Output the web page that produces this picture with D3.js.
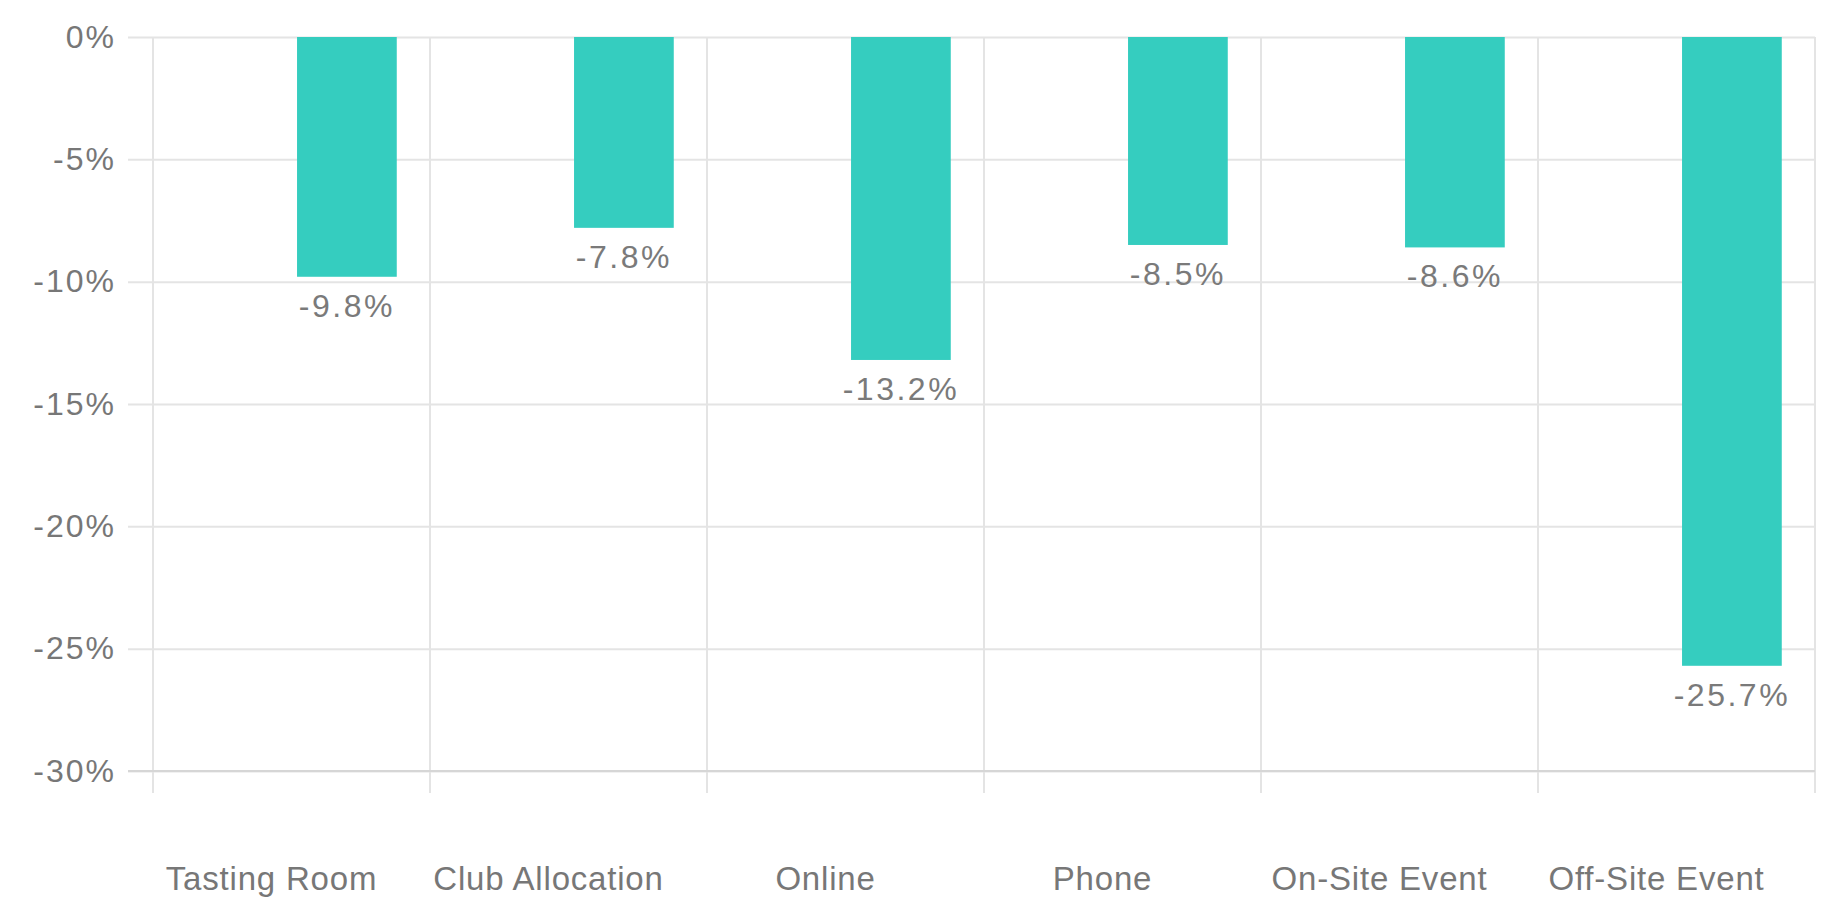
<!DOCTYPE html>
<html>
<head>
<meta charset="utf-8">
<script src="https://cdn.jsdelivr.net/npm/d3@7"></script>
<style>
body { margin: 0; background: #fff; }
svg { display: block; font-family: "Liberation Sans", Arial, Helvetica, sans-serif; }
.grid line { stroke: #e4e4e4; stroke-width: 2px; }
.axis--y .domain { display: none; }
.axis--y line { stroke: #e4e4e4; stroke-width: 2px; }
.axis--y .tick text { fill: #777; font-size: 32px; letter-spacing: 2px; }
.base { stroke: #d6d6d6; stroke-width: 2px; }
.bar { fill: #35cdbf; }
.val { fill: #7a7a7a; font-size: 32px; letter-spacing: 2.5px; text-anchor: middle; }
.cat { fill: #777; font-size: 33px; letter-spacing: 0.8px; text-anchor: middle; }
</style>
</head>
<body>
<svg id="chart" width="1825" height="908"></svg>
<script>

/// Chart values
var categories = ["Tasting Room", "Club Allocation", "Online", "Phone", "On-Site Event", "Off-Site Event"];
var changes = [-9.8, -7.8, -13.2, -8.5, -8.6, -25.7];
var yTicks = [0, -5, -10, -15, -20, -25, -30];
var seriesSlots = ["prior", "change"]; /// first slot is empty in the original

var svg = d3.select("#chart"),
    margin = {top: 37, right: 10, bottom: 137, left: 153},
    width = +svg.attr("width") - margin.left - margin.right,
    height = +svg.attr("height") - margin.top - margin.bottom;

var x = d3.scaleBand()
    .domain(categories)
    .range([margin.left, margin.left + width])
    .padding(0);

/// slot inside each category (80% of the band, bar 90% of the slot)
var x1 = d3.scaleBand()
    .domain(seriesSlots)
    .range([x.bandwidth() * 0.1, x.bandwidth() * 0.9])
    .paddingInner(0.1)
    .paddingOuter(0.05);

var y = d3.scaleLinear()
    .domain([-30, 0])
    .range([margin.top + height, margin.top]);

var data = categories.map(function(c, i) { return {cat: c, v: changes[i]}; });

/// horizontal grid + y labels
svg.append("g")
    .attr("class", "axis axis--y")
    .attr("transform", "translate(" + (margin.left - 25) + ",0)")
    .call(d3.axisLeft(y)
        .tickValues(yTicks)
        .tickSize(-(width + 25))
        .tickPadding(12)
        .tickFormat(function(d) { return d + "%"; }));

/// vertical grid at category edges, running below the bottom line
var edges = categories.map(function(c) { return x(c); }).concat([x.range()[1]]);
svg.append("g")
    .attr("class", "grid")
  .selectAll("line")
  .data(edges)
  .enter().append("line")
    .attr("x1", function(d) { return d; })
    .attr("x2", function(d) { return d; })
    .attr("y1", y(0))
    .attr("y2", y(-30) + 22);

/// bottom line
svg.append("line")
    .attr("class", "base")
    .attr("x1", margin.left - 25)
    .attr("x2", x.range()[1])
    .attr("y1", y(-30))
    .attr("y2", y(-30));

/// bars
svg.append("g")
  .selectAll("rect")
  .data(data)
  .enter().append("rect")
    .attr("class", "bar")
    .attr("x", function(d) { return x(d.cat) + x1("change"); })
    .attr("width", x1.bandwidth())
    .attr("y", y(0))
    .attr("height", function(d) { return y(d.v) - y(0); });

/// value labels under bar ends
svg.append("g")
  .selectAll("text")
  .data(data)
  .enter().append("text")
    .attr("class", "val")
    .attr("x", function(d) { return x(d.cat) + x1("change") + x1.bandwidth() / 2; })
    .attr("y", function(d) { return y(d.v) + 40; })
    .text(function(d) { return d.v.toFixed(1) + "%"; });

/// category labels
svg.append("g")
  .selectAll("text")
  .data(categories)
  .enter().append("text")
    .attr("class", "cat")
    .attr("x", function(d) { return x(d) + x.bandwidth() / 2 - 20; })
    .attr("y", y(-30) + 119)
    .text(function(d) { return d; });

</script>
</body>
</html>
